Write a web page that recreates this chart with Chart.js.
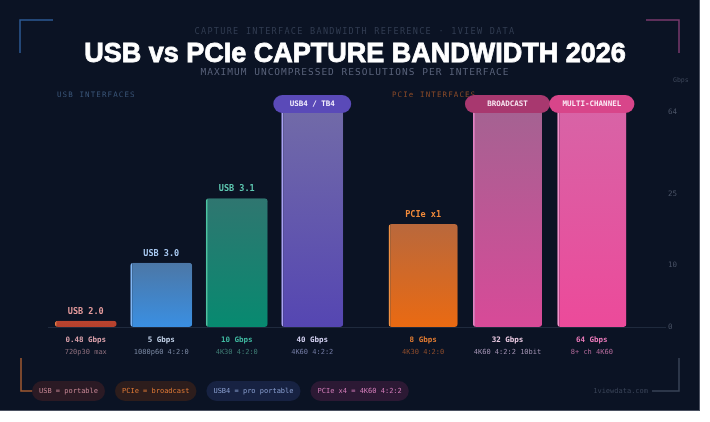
<!DOCTYPE html>
<html>
<head>
<meta charset="utf-8">
<script src="https://cdn.jsdelivr.net/npm/chart.js@4.4.1/dist/chart.umd.min.js"></script>
<style>
  html, body { margin: 0; background: #ffffff; }
  #wrap { width: 699px; height: 410px; background: #0b1324; border-right: 1px solid #4b5161; border-bottom: 1px solid #4b5161; }
  canvas { display: block; }
</style>
</head>
<body>
<div id="wrap"><canvas id="chart" width="699" height="410"></canvas></div>
<script>
// chart data
const usbNames = ["USB 2.0", "USB 3.0", "USB 3.1", "USB4 / TB4"];
const usbGbps = [0.48, 5, 10, 40];
const usbSpecs = ["720p30 max", "1080p60 4:2:0", "4K30 4:2:0", "4K60 4:2:2"];

const pcieNames = ["PCIe x1", "BROADCAST", "MULTI-CHANNEL"];
const pcieGbps = [8, 32, 64];
const pcieSpecs = ["4K30 4:2:0", "4K60 4:2:2 10bit", "8+ ch 4K60"];

// right axis ticks as printed in the picture
const tickValues = [0, 4.8, 10.3, 16.7];
const tickLabels = ["0", "10", "25", "64"];

const legendItems = ["USB = portable", "PCIe = broadcast", "USB4 = pro portable", "PCIe x4 = 4K60 4:2:2"];

// colours per bar
const usbStyle = [
  { top: "#b8442f", bottom: "#b5402c", edge: "#ec7a44", name: "#e49a9c", value: "#dca2ac", spec: "#8c6e7c" },
  { top: "#4c77a6", bottom: "#3a8fe2", edge: "#80b6f4", name: "#a9c9f1", value: "#c3d3ea", spec: "#7a88a2" },
  { top: "#2f7670", bottom: "#078a70", edge: "#4cc4a2", name: "#5ec9b2", value: "#3fb9a0", spec: "#3f7c74" },
  { top: "#716aa8", bottom: "#5546b2", edge: "#aaa2f4", name: "#f2eefc", value: "#d4d2f2", spec: "#727aa2", pill: "#5a4ab8" }
];
const pcieStyle = [
  { top: "#b9683c", bottom: "#ea6a12", edge: "#f29244", name: "#f28a3a", value: "#e27c32", spec: "#8c4c2c" },
  { top: "#a56292", bottom: "#d84a98", edge: "#e282c2", name: "#f6e4f0", value: "#eacae2", spec: "#a292b2", pill: "#a8386f" },
  { top: "#d863a6", bottom: "#ec4a9a", edge: "#f292ca", name: "#fbe8f4", value: "#ea7aba", spec: "#b26a9a", pill: "#d8458a" }
];
const legendStyle = [
  { bg: "#2b1a24", fg: "#c58593" },
  { bg: "#2d1d1c", fg: "#e07a36" },
  { bg: "#172242", fg: "#8a9fd0" },
  { bg: "#2c1934", fg: "#d27cb8" }
];

const mono = "'DejaVu Sans Mono', monospace";

// vertical gradient for each bar, from its top to the baseline
function barFill(styles) {
  return (c) => {
    if (c.dataIndex === undefined) return "#000";
    const s = styles[c.dataIndex];
    const ys = c.chart.scales.y;
    if (!ys || !c.chart.chartArea) return s.bottom;
    const top = ys.getPixelForValue(Math.min(c.raw, ys.max));
    const base = ys.getPixelForValue(0);
    const g = c.chart.ctx.createLinearGradient(0, top, 0, base);
    g.addColorStop(0, s.top);
    g.addColorStop(1, s.bottom);
    return g;
  };
}

function txt(ctx, s, x, y, font, color, align, spacing) {
  ctx.save();
  ctx.font = font;
  ctx.fillStyle = color;
  ctx.textAlign = align || "center";
  ctx.textBaseline = "middle";
  ctx.letterSpacing = (spacing || 0) + "px";
  ctx.fillText(s, x, y);
  ctx.restore();
}

function pill(ctx, x, y, w, h, color) {
  ctx.beginPath();
  ctx.roundRect(x, y, w, h, h / 2);
  ctx.fillStyle = color;
  ctx.fill();
}

function bracket(ctx, pts, color) {
  ctx.save();
  ctx.strokeStyle = color;
  ctx.lineWidth = 1.5;
  ctx.beginPath();
  ctx.moveTo(pts[0][0], pts[0][1]);
  for (let i = 1; i < pts.length; i++) ctx.lineTo(pts[i][0], pts[i][1]);
  ctx.stroke();
  ctx.restore();
}

const decor = {
  id: "decor",
  beforeDraw(chart) {
    const ctx = chart.ctx;
    const area = chart.chartArea;
    const ys = chart.scales.y;
    // corner brackets
    bracket(ctx, [[20, 53], [20, 20], [53, 20]], "#2d5a92");
    bracket(ctx, [[646, 20], [679, 20], [679, 53]], "#7a3a6c");
    bracket(ctx, [[21, 358], [21, 391], [33, 391]], "#a05a30");
    bracket(ctx, [[652, 391], [679, 391], [679, 358]], "#394356");

    // headings
    txt(ctx, "CAPTURE INTERFACE BANDWIDTH REFERENCE · 1VIEW DATA", 355, 32, "8.5px " + mono, "#323d52", "center", 1.3);
    ctx.save();
    ctx.font = "bold 27px 'Liberation Sans', Arial, sans-serif";
    ctx.fillStyle = "#ffffff";
    ctx.strokeStyle = "#ffffff";
    ctx.lineWidth = 0.8;
    ctx.textAlign = "center";
    ctx.textBaseline = "alphabetic";
    ctx.fillText("USB vs PCIe CAPTURE BANDWIDTH 2026", 355, 62);
    ctx.strokeText("USB vs PCIe CAPTURE BANDWIDTH 2026", 355, 62);
    ctx.restore();
    txt(ctx, "MAXIMUM UNCOMPRESSED RESOLUTIONS PER INTERFACE", 355, 73, "9.5px " + mono, "#59627a", "center", 1);
    txt(ctx, "USB INTERFACES", 57, 95, "7.5px " + mono, "#3a5578", "left", 1.1);
    txt(ctx, "PCIe INTERFACES", 392, 95, "7.5px " + mono, "#8a4a28", "left", 1.1);
    txt(ctx, "Gbps", 673, 80, "6.5px " + mono, "#3c4558", "left");

    // right-hand tick labels, placed by the y scale
    tickValues.forEach((v, i) => {
      txt(ctx, tickLabels[i], area.right + 34, ys.getPixelForValue(v), "7.5px " + mono, "#4a5366", "left");
    });

    // baseline
    const base = ys.getPixelForValue(0);
    ctx.save();
    ctx.strokeStyle = "#1f2a3d";
    ctx.lineWidth = 1;
    ctx.beginPath();
    ctx.moveTo(area.left, base + 0.5);
    ctx.lineTo(666, base + 0.5);
    ctx.stroke();
    ctx.restore();

    // legend chips
    let x = 32;
    legendItems.forEach((s, i) => {
      ctx.save();
      ctx.font = "7px " + mono;
      const w = ctx.measureText(s).width + 14;
      ctx.restore();
      pill(ctx, x, 381, w, 20, legendStyle[i].bg);
      txt(ctx, s, x + w / 2, 391, "7px " + mono, legendStyle[i].fg);
      x += w + 10;
    });
    txt(ctx, "1viewdata.com", 648, 391, "7px " + mono, "#3a4458", "right");
  },
  afterDatasetsDraw(chart) {
    const ctx = chart.ctx;
    const ys = chart.scales.y;
    const groups = [
      { names: usbNames, vals: usbGbps, specs: usbSpecs, styles: usbStyle },
      { names: pcieNames, vals: pcieGbps, specs: pcieSpecs, styles: pcieStyle }
    ];
    groups.forEach((g, di) => {
      chart.getDatasetMeta(di).data.forEach((bar, i) => {
        const s = g.styles[i];
        if (g.vals[i] > ys.max) {
          const w = bar.width + 16;
          pill(ctx, bar.x - w / 2, chart.chartArea.top - 17, w, 18, s.pill);
          txt(ctx, g.names[i], bar.x, chart.chartArea.top - 8, "bold 7.5px " + mono, s.name);
        } else {
          txt(ctx, g.names[i], bar.x, bar.y - 9, "bold 8.5px " + mono, s.name);
        }
        txt(ctx, g.vals[i] + " Gbps", bar.x, 340, "bold 7.5px " + mono, s.value);
        txt(ctx, g.specs[i], bar.x, 352, "7px " + mono, s.spec);
      });
    });
  }
};

const barCommon = {
  grouped: false,
  barPercentage: 0.82,
  categoryPercentage: 1,
  borderRadius: 3,
  borderSkipped: false,
  borderWidth: { left: 2, top: 0, right: 0, bottom: 0 },
  clip: 0
};

new Chart(document.getElementById("chart"), {
  type: "bar",
  data: {
    datasets: [
      Object.assign({
        label: "USB",
        data: usbGbps,
        xAxisID: "xu",
        backgroundColor: barFill(usbStyle),
        borderColor: usbStyle.map(s => s.edge)
      }, barCommon),
      Object.assign({
        label: "PCIe",
        data: pcieGbps,
        xAxisID: "xp",
        backgroundColor: barFill(pcieStyle),
        borderColor: pcieStyle.map(s => s.edge)
      }, barCommon)
    ]
  },
  options: {
    responsive: false,
    animation: false,
    layout: { padding: { left: 48, right: 65, top: 112, bottom: 83 } },
    plugins: { legend: { display: false }, tooltip: { enabled: false } },
    scales: {
      xu: { type: "category", labels: usbNames, position: "bottom", stack: "x", stackWeight: 302, offset: true, display: false },
      xg: { type: "category", labels: [""], position: "bottom", stack: "x", stackWeight: 31, display: false },
      xp: { type: "category", labels: pcieNames, position: "bottom", stack: "x", stackWeight: 253, offset: true, display: false },
      y: { position: "right", min: 0, max: 16.7, display: false }
    }
  },
  plugins: [decor]
});
</script>
</body>
</html>
